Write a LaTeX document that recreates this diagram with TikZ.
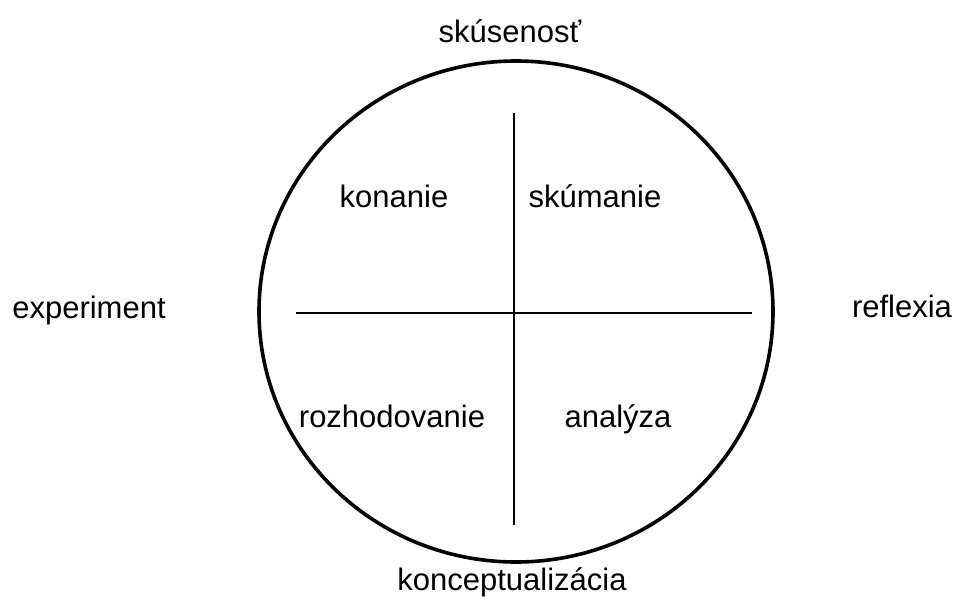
\documentclass[tikz,border=0pt]{standalone}
\usepackage{fontspec}
\setmainfont{Liberation Sans}
\usetikzlibrary{positioning,calc}

\begin{document}
\begin{tikzpicture}[x=1pt,y=-1pt,font=\fontsize{31}{36}\selectfont,inner sep=0pt,
  lbl/.style={anchor=base}]
  \useasboundingbox (0,0) rectangle (956,597);
  \coordinate (c) at (516,311.5);
  \draw [line width=3.6pt] (c) ellipse [x radius=257, y radius=250.5];
  % axes
  \coordinate (h1) at (296,313);
  \coordinate (h2) at (752,313);
  \coordinate (v1) at (514,113);
  \coordinate (v2) at (514,525);
  \draw [line width=1.6pt] (h1) -- (h2);
  \draw [line width=1.6pt] (v1) -- (v2);
  % outer labels
  \node[lbl] (top) at (510,42) {skúsenosť};
  \node[lbl] (bot) at (512,590) {konceptualizácia};
  \node[lbl] (lft) at (89,318) {experiment};
  \node[lbl] (rgt) at (902,317) {reflexia};
  % quadrants
  \node[lbl] (q1) at (394,207) {konanie};
  \node[lbl] (q2) at (595,207) {skúmanie};
  \node[lbl] (q3) at (392,427) {rozhodovanie};
  \node[lbl] (q4) at (618,427) {analýza};
\end{tikzpicture}
\end{document}
